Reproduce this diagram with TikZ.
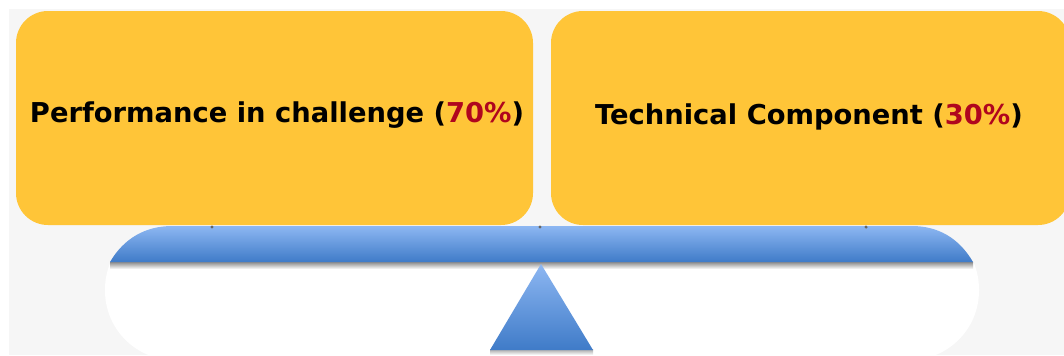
\documentclass[tikz,border=0pt]{standalone}
\usepackage{fontspec}
\setmainfont{DejaVu Sans}
\definecolor{pagegrey}{HTML}{F6F6F6}
\definecolor{boxgold}{HTML}{FFC538}
\definecolor{blueT}{HTML}{8DB7F2}
\definecolor{blueB}{HTML}{3F7BC8}
\definecolor{pct}{HTML}{B0061E}
\tikzset{
  x=0.75pt,y=-0.75pt,
  goldbox/.style={fill=boxgold,draw=none,rounded corners=24pt},
  label/.style={font=\fontsize{20.5}{24}\selectfont\bfseries,inner sep=0pt,text=black,anchor=center},
  bluefill/.style={draw=none,top color=blueT,bottom color=blueB,shading angle=0},
  shadowband/.style={draw=none,top color=black!42,bottom color=black!42!white,opacity=0.9},
  pin/.style={fill=black!60,draw=none,circle,inner sep=0pt,minimum size=2.6pt}
}
\begin{document}
\begin{tikzpicture}
\useasboundingbox (0,0) rectangle (1064,355);
\fill[white] (0,0) rectangle (1064,355);
\fill[pagegrey] (9,9) rectangle (1064,355);
% white base of the balance
\begin{scope}
  \clip (0,262) rectangle (1064,355);
  \fill[white,rounded corners=52pt] (105,220) rectangle (979,360);
\end{scope}
% shadows
\shade[top color=black!45,bottom color=white,draw=none] (110,262) rectangle (973,269);
\shade[top color=black!35,bottom color=white,draw=none] (490,349) rectangle (593,355);
% beam
\path[bluefill] (110,262) .. controls (124,238) and (146,226) .. (172,226) -- (912,226) .. controls (938,226) and (959,238) .. (973,262) -- cycle;
% pivot
\path[bluefill] (541,264) -- (593,350) -- (490,350) -- cycle;
% boxes
\path[goldbox] (16,11) rectangle (533,225);
\path[goldbox] (551,11) rectangle (1070,225);
% pins
\node[pin] (pinA) at (212,227) {};
\node[pin] (pinB) at (540,227) {};
\node[pin] (pinC) at (866,227) {};
% labels
\node[label] (left) at (277,115) {Performance in challenge (\textcolor{pct}{70\%})};
\node[label] (right) at (809,117) {Technical Component (\textcolor{pct}{30\%})};
\end{tikzpicture}
\end{document}
